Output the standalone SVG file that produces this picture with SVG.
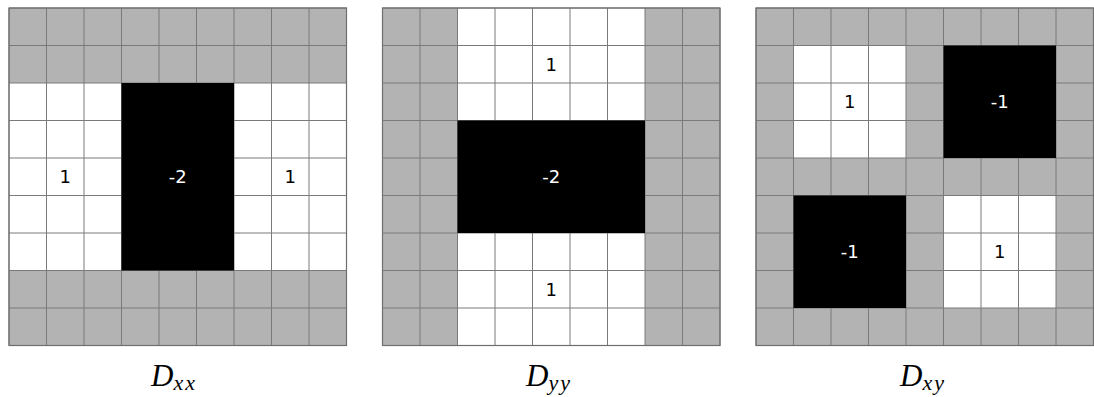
<svg xmlns="http://www.w3.org/2000/svg" xmlns:xlink="http://www.w3.org/1999/xlink" width="1094" height="397" viewBox="0 0 1094 397">
<style>
.bg{fill:#ffffff}
.grey{fill:#b3b3b3}
.white{fill:#ffffff}
.black{fill:#000000}
.lines{fill:none;stroke:#7a7a7a;stroke-width:1}
.frame{fill:none;stroke:#6e6e6e;stroke-width:1.2}
.num{font-family:"DejaVu Sans",sans-serif;font-size:18px;text-anchor:middle}
.numw{fill:#ffffff}
.numb{fill:#000000}
.lab{font-family:"Liberation Serif",serif;font-style:italic;font-size:31px;fill:#000}
.sub{font-size:22px;letter-spacing:2px}
</style>
<defs>
<path id="grid" d="M0 0V337.5M37.5 0V337.5M75 0V337.5M112.5 0V337.5M150 0V337.5M187.5 0V337.5M225 0V337.5M262.5 0V337.5M300 0V337.5M337.5 0V337.5M0 0H337.5M0 37.5H337.5M0 75H337.5M0 112.5H337.5M0 150H337.5M0 187.5H337.5M0 225H337.5M0 262.5H337.5M0 300H337.5M0 337.5H337.5"/>
</defs>
<rect class="bg" x="0" y="0" width="1094" height="397"/>
<g id="dxx" transform="translate(9,8)">
<rect class="grey" x="0" y="0" width="337.5" height="337.5"/>
<rect class="white" x="0" y="75" width="337.5" height="187.5"/>
<use xlink:href="#grid" class="lines"/>
<rect class="frame" x="0" y="0" width="337.5" height="337.5"/>
<rect class="black" x="112.5" y="75" width="112.5" height="187.5"/>
<text class="num numb" x="56.25" y="175.3">1</text>
<text class="num numw" x="168.75" y="175.3">-2</text>
<text class="num numb" x="281.25" y="175.3">1</text>
</g>
<g id="dyy" transform="translate(382.5,8)">
<rect class="grey" x="0" y="0" width="337.5" height="337.5"/>
<rect class="white" x="75" y="0" width="187.5" height="337.5"/>
<use xlink:href="#grid" class="lines"/>
<rect class="frame" x="0" y="0" width="337.5" height="337.5"/>
<rect class="black" x="75" y="112.5" width="187.5" height="112.5"/>
<text class="num numb" x="168.75" y="62.8">1</text>
<text class="num numw" x="168.75" y="175.3">-2</text>
<text class="num numb" x="168.75" y="287.8">1</text>
</g>
<g id="dxy" transform="translate(756,8)">
<rect class="grey" x="0" y="0" width="337.5" height="337.5"/>
<rect class="white" x="37.5" y="37.5" width="112.5" height="112.5"/>
<rect class="white" x="187.5" y="187.5" width="112.5" height="112.5"/>
<use xlink:href="#grid" class="lines"/>
<rect class="frame" x="0" y="0" width="337.5" height="337.5"/>
<rect class="black" x="187.5" y="37.5" width="112.5" height="112.5"/>
<rect class="black" x="37.5" y="187.5" width="112.5" height="112.5"/>
<text class="num numb" x="93.75" y="100.3">1</text>
<text class="num numw" x="243.75" y="100.3">-1</text>
<text class="num numw" x="93.75" y="250.3">-1</text>
<text class="num numb" x="243.75" y="250.3">1</text>
</g>
<g id="labels">
<text class="lab" x="151" y="386">D<tspan class="sub" dy="4">xx</tspan></text>
<text class="lab" x="526" y="386">D<tspan class="sub" dy="4">yy</tspan></text>
<text class="lab" x="900" y="386">D<tspan class="sub" dy="4">xy</tspan></text>
</g>
<g id="connectors"></g>
</svg>
